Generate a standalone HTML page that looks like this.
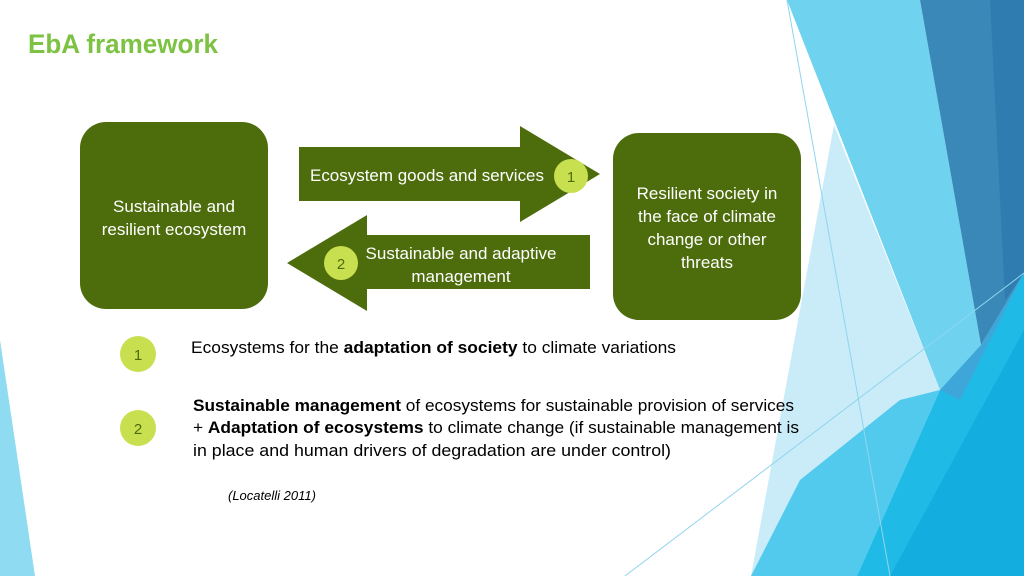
<!DOCTYPE html>
<html><head><meta charset="utf-8"><style>
html,body{margin:0;padding:0;background:#fff;}
svg{display:block;}
text{font-family:"Liberation Sans",sans-serif;}
</style></head><body>
<svg width="1024" height="576" viewBox="0 0 1024 576" xmlns="http://www.w3.org/2000/svg">
<rect width="1024" height="576" fill="#fff"/>
<!-- right decoration -->
<polygon points="787,0 920,0 981,345 940,390" fill="#6fd3f0"/>
<polygon points="834,125 940,390 857,576 751,576" fill="#c9ecf8"/>
<polygon points="751,576 800,480 900,400 940,390 857,576" fill="#52caee"/>
<polygon points="920,0 1024,0 1024,273 981,345" fill="#3a88b8"/>
<polygon points="990,0 1024,0 1024,273 1005,300" fill="#2f7db0"/>
<polygon points="857,576 940,390 981,345 1024,273 1024,576" fill="#1fbbe6"/>
<polygon points="940,390 981,345 1024,273 960,400" fill="#3ea6d8"/>
<polygon points="890,576 1024,330 1024,576" fill="#14ade0"/>
<line x1="787" y1="0" x2="890" y2="576" stroke="#8fd5ee" stroke-width="1"/>
<line x1="625" y1="576" x2="1024" y2="273" stroke="#8fd5ee" stroke-width="1"/>
<!-- left sliver -->
<polygon points="0,340 35,576 0,576" fill="#8fdbf2"/>
<!-- title -->
<text x="28" y="53" font-size="27" font-weight="bold" fill="#7dc242" textLength="190" lengthAdjust="spacingAndGlyphs">EbA framework</text>
<!-- boxes -->
<rect x="80" y="122" width="188" height="187" rx="26" fill="#4d6d0c"/>
<text fill="#fff" font-size="17" text-anchor="middle"><tspan x="174" y="212">Sustainable and</tspan><tspan x="174" y="235">resilient ecosystem</tspan></text>
<rect x="613" y="133" width="188" height="187" rx="26" fill="#4d6d0c"/>
<text fill="#fff" font-size="17" text-anchor="middle"><tspan x="707" y="199">Resilient society in</tspan><tspan x="707" y="222">the face of climate</tspan><tspan x="707" y="245">change or other</tspan><tspan x="707" y="268">threats</tspan></text>
<!-- arrows -->
<polygon points="299,147 520,147 520,126 600,174 520,222 520,201 299,201" fill="#4d6d0c"/>
<text x="310" y="181" font-size="16.5" fill="#fff" textLength="234" lengthAdjust="spacingAndGlyphs">Ecosystem goods and services</text>
<circle cx="571" cy="176" r="17" fill="#c8df4f"/>
<text x="571" y="182" font-size="15" fill="#4d6d0c" text-anchor="middle">1</text>
<polygon points="590,235 367,235 367,215 287,263 367,311 367,289 590,289" fill="#4d6d0c"/>
<text fill="#fff" font-size="17" text-anchor="middle"><tspan x="461" y="259">Sustainable and adaptive</tspan><tspan x="461" y="282">management</tspan></text>
<circle cx="341" cy="263" r="17" fill="#c8df4f"/>
<text x="341" y="269" font-size="15" fill="#4d6d0c" text-anchor="middle">2</text>
<!-- legend -->
<circle cx="138" cy="354" r="18" fill="#c8df4f"/>
<text x="138" y="360" font-size="15" fill="#4d6d0c" text-anchor="middle">1</text>
<circle cx="138" cy="428" r="18" fill="#c8df4f"/>
<text x="138" y="434" font-size="15" fill="#4d6d0c" text-anchor="middle">2</text>
<text x="191" y="353" font-size="17" fill="#000" textLength="485" lengthAdjust="spacingAndGlyphs">Ecosystems for the <tspan font-weight="bold">adaptation of society</tspan> to climate variations</text>
<text x="193" y="411" font-size="17" fill="#000" textLength="601" lengthAdjust="spacingAndGlyphs"><tspan font-weight="bold">Sustainable management</tspan> of ecosystems for sustainable provision of services</text>
<text x="193" y="433" font-size="17" fill="#000" textLength="606" lengthAdjust="spacingAndGlyphs">+ <tspan font-weight="bold">Adaptation of ecosystems</tspan> to climate change (if sustainable  management is</text>
<text x="193" y="456" font-size="17" fill="#000" textLength="478" lengthAdjust="spacingAndGlyphs">in place and human drivers of degradation are under control)</text>
<text x="228" y="500" font-size="13" font-style="italic" fill="#000">(Locatelli 2011)</text>
</svg>
</body></html>
